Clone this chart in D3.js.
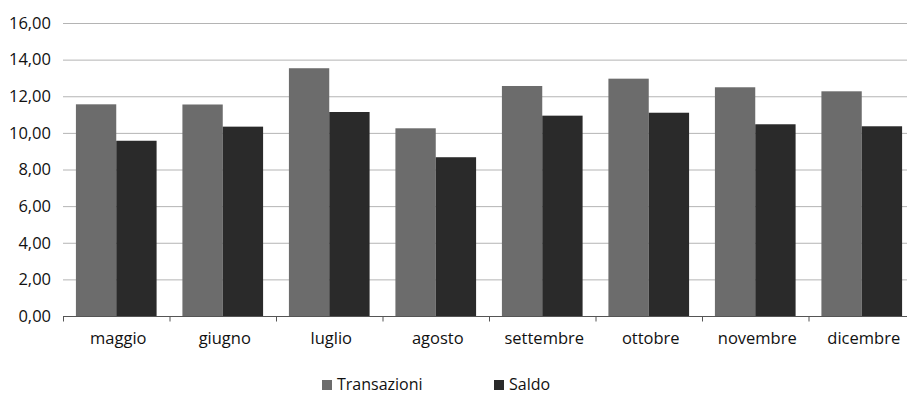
<!DOCTYPE html>
<html>
<head>
<meta charset="utf-8">
<script src="https://cdn.jsdelivr.net/npm/d3@7"></script>
<style>
  body { margin: 0; background: #fff; }
  svg { display: block; }
</style>
</head>
<body>
<div id="chart"></div>
<script>
var months = ["maggio", "giugno", "luglio", "agosto", "settembre", "ottobre", "novembre", "dicembre"];
var series = ["Transazioni", "Saldo"];
var transazioni = [11.56, 11.55, 13.53, 10.25, 12.56, 12.96, 12.49, 12.27];
var saldo = [9.57, 10.34, 11.14, 8.67, 10.94, 11.10, 10.47, 10.36];
var yTicks = [0, 2, 4, 6, 8, 10, 12, 14, 16];
var colors = ["#6c6c6c", "#2a2a2a"];

var width = 907, height = 394;
var margin = {top: 23, left: 63, right: -8, bottom: 78};

var svg = d3.select("#chart").append("svg")
    .attr("width", width)
    .attr("height", height);

var x0 = d3.scaleBand()
    .domain(months)
    .range([margin.left, width - margin.right]);

var x1 = d3.scaleBand()
    .domain(series)
    .range([0, x0.bandwidth()])
    .paddingOuter(0.32);

var y = d3.scaleLinear()
    .domain([0, 16])
    .range([height - margin.bottom, margin.top]);

// grid
svg.append("g")
  .selectAll("line")
  .data(yTicks.slice(1))
  .enter().append("line")
    .attr("x1", margin.left)
    .attr("x2", width - margin.right)
    .attr("y1", function(d) { return y(d) + 0.5; })
    .attr("y2", function(d) { return y(d) + 0.5; })
    .style("stroke", "#b4b4b4")
    .style("stroke-width", 1);

// y labels
var fmt = function(d) { return d3.format(".2f")(d).replace(".", ","); };
svg.append("g")
  .selectAll("text")
  .data(yTicks)
  .enter().append("text")
    .attr("x", 51)
    .attr("y", function(d) { return y(d); })
    .attr("dy", "0.35em")
    .attr("text-anchor", "end")
    .style("font-family", "'Open Sans', sans-serif")
    .style("font-size", "16.5px")
    .style("fill", "#111")
    .text(fmt);

// bars
var rows = months.map(function(m, i) {
  return {month: m, values: [transazioni[i], saldo[i]]};
});

var groups = svg.append("g")
  .selectAll("g")
  .data(rows)
  .enter().append("g")
    .attr("transform", function(d) { return "translate(" + x0(d.month) + ",0)"; });

groups.selectAll("rect")
  .data(function(d) { return d.values.map(function(v, j) { return {key: series[j], value: v, j: j}; }); })
  .enter().append("rect")
    .attr("x", function(d) { return x1(d.key); })
    .attr("y", function(d) { return y(d.value); })
    .attr("width", x1.bandwidth())
    .attr("height", function(d) { return y(0) - y(d.value); })
    .style("fill", function(d) { return colors[d.j]; });

// x axis
var xAxis = svg.append("g")
    .attr("transform", "translate(0," + (y(0) + 0.5) + ")");
xAxis.append("line")
    .attr("x1", margin.left)
    .attr("x2", width - margin.right)
    .style("stroke", "#555");
xAxis.selectAll(".tk")
  .data(months)
  .enter().append("line")
    .attr("class", "tk")
    .attr("x1", function(d) { return x0(d) + 0.5; })
    .attr("x2", function(d) { return x0(d) + 0.5; })
    .attr("y1", 0)
    .attr("y2", 5)
    .style("stroke", "#555");
xAxis.selectAll("text")
  .data(months)
  .enter().append("text")
    .attr("x", function(d) { return x0(d) + x0.bandwidth() / 2 + 2; })
    .attr("y", 27)
    .attr("text-anchor", "middle")
    .style("font-family", "'Open Sans', sans-serif")
    .style("font-size", "16.5px")
    .style("fill", "#111")
    .text(function(d) { return d; });

// legend
var legendX = [322, 494];
var legend = svg.append("g")
  .selectAll("g")
  .data(series)
  .enter().append("g")
    .attr("transform", function(d, i) { return "translate(" + legendX[i] + ",380)"; });
legend.append("rect")
    .attr("width", 10)
    .attr("height", 10)
    .style("fill", function(d, i) { return colors[i]; });
legend.append("text")
    .attr("x", 15)
    .attr("y", 10)
    .style("font-family", "'Open Sans', sans-serif")
    .style("font-size", "16px")
    .style("fill", "#111")
    .text(function(d) { return d; });
</script>
</body>
</html>
